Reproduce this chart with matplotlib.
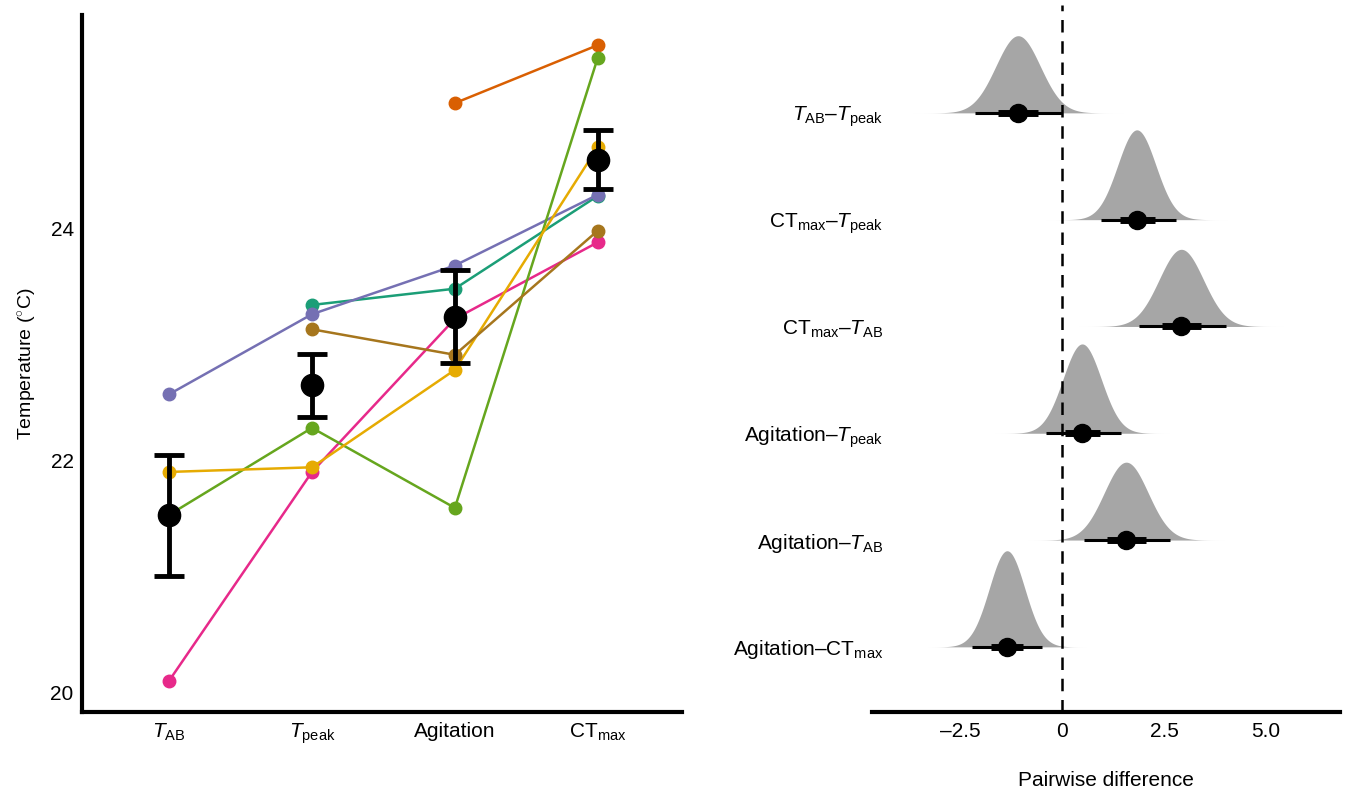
import numpy as np
import matplotlib
matplotlib.use("Agg")
import matplotlib.pyplot as plt

plt.rcParams['font.family'] = ['Liberation Sans', 'DejaVu Sans']
plt.rcParams['mathtext.fontset'] = 'custom'
plt.rcParams['mathtext.rm'] = 'Liberation Sans'
plt.rcParams['mathtext.it'] = 'Liberation Sans:italic'

# Left panel: individual temperatures at each threshold
stages = [r'$\mathit{T}_{\mathrm{AB}}$', r'$\mathit{T}_{\mathrm{peak}}$', 'Agitation', r'CT$_{\mathrm{max}}$']
teal = [np.nan, 23.34, 23.48, 24.28]
orange = [np.nan, np.nan, 25.08, 25.58]
purple = [22.57, 23.26, 23.68, 24.29]
pink = [20.10, 21.90, 23.22, 23.88]
green = [21.53, 22.28, 21.59, 25.47]
yellow = [21.90, 21.94, 22.78, 24.70]
brown = [np.nan, 23.13, 22.91, 23.98]
individuals = [teal, orange, purple, pink, green, yellow, brown]
ind_colors = ['#1B9E77', '#D95F02', '#7570B3', '#E7298A', '#66A61E', '#E6AB02', '#A6761D']

mean_temp = [21.53, 22.65, 23.24, 24.59]
mean_lo = [21.00, 22.37, 22.84, 24.34]
mean_hi = [22.05, 22.92, 23.64, 24.85]

# Right panel: posterior pairwise differences
pair_labels = [r'$\mathit{T}_{\mathrm{AB}}$–$\mathit{T}_{\mathrm{peak}}$',
               r'CT$_{\mathrm{max}}$–$\mathit{T}_{\mathrm{peak}}$',
               r'CT$_{\mathrm{max}}$–$\mathit{T}_{\mathrm{AB}}$',
               r'Agitation–$\mathit{T}_{\mathrm{peak}}$',
               r'Agitation–$\mathit{T}_{\mathrm{AB}}$',
               r'Agitation–CT$_{\mathrm{max}}$']
pair_est = [-1.08, 1.83, 2.92, 0.49, 1.57, -1.35]
pair_66_lo = [-1.57, 1.42, 2.45, 0.07, 1.10, -1.74]
pair_66_hi = [-0.59, 2.28, 3.41, 0.93, 2.06, -0.96]
pair_95_lo = [-2.13, 0.96, 1.89, -0.39, 0.54, -2.20]
pair_95_hi = [0.00, 2.79, 4.02, 1.45, 2.65, -0.49]

fig = plt.figure(figsize=(13.45, 7.93), dpi=100)

# ---- left panel
ax1 = fig.add_axes([82/1345, 81/793, 600/1345, 697/793])
x = np.arange(len(stages))
for vals, c in zip(individuals, ind_colors):
    ax1.plot(x, vals, color=c, lw=1.8, marker='o', ms=9, zorder=2)
ax1.errorbar(x, mean_temp,
             yerr=[np.array(mean_temp) - np.array(mean_lo), np.array(mean_hi) - np.array(mean_temp)],
             fmt='o', color='black', ms=16, lw=3.5, capsize=11, capthick=3.5, zorder=5)
ax1.set_xlim(-0.61, 3.59)
ax1.set_ylim(19.83, 25.84)
ax1.set_xticks(x)
ax1.set_xticklabels(stages)
ax1.set_yticks([20, 22, 24])
ax1.tick_params(length=0, labelsize=15, colors='black')
ax1.tick_params(axis='x', pad=7)
ax1.tick_params(axis='y', pad=6)
ax1.set_ylabel('Temperature ($^{\\circ}$C)', fontsize=14, labelpad=8)
for s in ['top', 'right']:
    ax1.spines[s].set_visible(False)
for s in ['left', 'bottom']:
    ax1.spines[s].set_linewidth(3)

# ---- right panel
ax2 = fig.add_axes([872/1345, 81/793, 468/1345, 707/793])
n = len(pair_labels)
rows = np.arange(n)[::-1]
sds = (np.array(pair_95_hi) - np.array(pair_95_lo)) / 3.92
scale = 0.9 / (1 / sds.min())
for r, m, sd in zip(rows, pair_est, sds):
    g = np.linspace(m - 4.8 * sd, m + 4.8 * sd, 300)
    h = np.exp(-0.5 * ((g - m) / sd) ** 2) / sd * scale
    ax2.fill_between(g, r, r + h, color='#A6A6A6', lw=0, zorder=1)
ax2.axvline(0, color='black', lw=1.8, ls=(0, (5, 3.5)), zorder=2)
for r, m, a, b, c, d in zip(rows, pair_est, pair_95_lo, pair_95_hi, pair_66_lo, pair_66_hi):
    ax2.plot([a, b], [r, r], color='black', lw=2.2, solid_capstyle='butt', zorder=3)
    ax2.plot([c, d], [r, r], color='black', lw=5, solid_capstyle='butt', zorder=3)
    ax2.plot(m, r, 'o', color='black', ms=13, zorder=4)
ax2.set_xlim(-4.66, 6.81)
ax2.set_ylim(-0.61, 6.01)
ax2.set_xticks([-2.5, 0, 2.5, 5.0])
ax2.set_xticklabels(['–2.5', '0', '2.5', '5.0'])
ax2.set_yticks(rows)
ax2.set_yticklabels(pair_labels)
ax2.tick_params(length=0, labelsize=15, colors='black')
ax2.tick_params(axis='x', pad=7)
ax2.tick_params(axis='y', pad=-8)
ax2.set_xlabel('Pairwise difference', fontsize=15, labelpad=22)
for s in ['top', 'right', 'left']:
    ax2.spines[s].set_visible(False)
ax2.spines['bottom'].set_linewidth(3)

fig.savefig('out.png', dpi=100)
